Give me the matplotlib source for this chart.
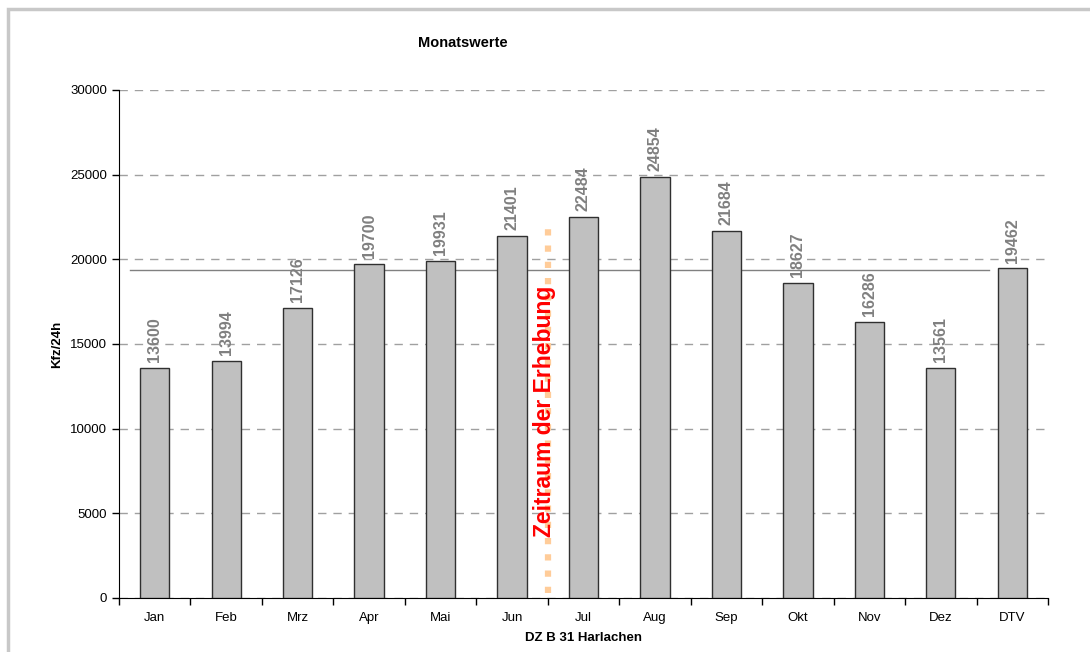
import matplotlib
matplotlib.use("Agg")
import matplotlib.pyplot as plt
from matplotlib.patches import Rectangle

plt.rcParams['font.family'] = ['Liberation Sans', 'DejaVu Sans']

categories = ["Jan", "Feb", "Mrz", "Apr", "Mai", "Jun", "Jul", "Aug", "Sep", "Okt", "Nov", "Dez", "DTV"]
values = [13600, 13994, 17126, 19700, 19931, 21401, 22484, 24854, 21684, 18627, 16286, 13561, 19462]
reference_level = 19350
survey_boundary = 5.5
survey_top = 21800
yticks = [0, 5000, 10000, 15000, 20000, 25000, 30000]

fig = plt.figure(figsize=(10.9, 6.52), dpi=100)
fig.patches.append(Rectangle((8 / 1090, -0.05), 1.2, 1 - 9 / 652 + 0.05,
                             transform=fig.transFigure, fill=False,
                             edgecolor="#c8c8c8", linewidth=2.5))

ax = fig.add_axes([119 / 1090, 1 - 598 / 652, (1048 - 119) / 1090, (598 - 90) / 652])
x = list(range(len(categories)))

ax.bar(x, values, width=0.41, color="#c0c0c0", edgecolor="#303030", linewidth=1.0, zorder=3)

for xi, v in zip(x, values):
    ax.text(xi, v + 350, str(v), rotation=90, ha="center", va="bottom",
            fontsize=11.5, fontweight="bold", color="#808080", zorder=4)

ax.plot([-0.34, 11.68], [reference_level, reference_level], color="#808080", linewidth=1.0, zorder=2)

ax.plot([survey_boundary, survey_boundary], [300, survey_top], color="#ffcc99",
        linewidth=4.5, linestyle=(0, (1, 1.6)), zorder=3)
ax.text(survey_boundary - 0.04, 11050, "Zeitraum der Erhebung", rotation=90,
        ha="center", va="center", color="#ff0000", fontsize=16.5, fontweight="bold", zorder=5)

ax.set_xlim(-0.5, len(categories) - 0.5)
ax.set_ylim(0, 30000)
ax.set_yticks(yticks)
ax.set_yticklabels([str(t) for t in yticks], fontsize=9.5)
ax.yaxis.grid(True, color="#a0a0a0", linestyle=(0, (6, 5)), linewidth=1.0, zorder=0)
ax.set_axisbelow(True)

ax.set_xticks(x)
ax.set_xticklabels(categories, fontsize=9.5)
ax.tick_params(axis="x", length=0, pad=10)
ax.set_xticks([i - 0.5 for i in range(len(categories) + 1)], minor=True)
ax.tick_params(axis="x", which="minor", length=5, direction="out", width=1)
ax.tick_params(axis="y", length=5, direction="out", width=1)

for side in ("top", "right"):
    ax.spines[side].set_visible(False)
ax.spines["left"].set_color("black")
ax.spines["bottom"].set_color("black")

ax.set_ylabel("Kfz/24h", fontsize=9.5, fontweight="bold", labelpad=5)
ax.set_xlabel("DZ B 31 Harlachen", fontsize=9.5, fontweight="bold", labelpad=6)
fig.text(463 / 1090, 1 - 43 / 652, "Monatswerte", ha="center", va="center",
         fontsize=10.5, fontweight="bold")

fig.savefig("out.png", dpi=100)
